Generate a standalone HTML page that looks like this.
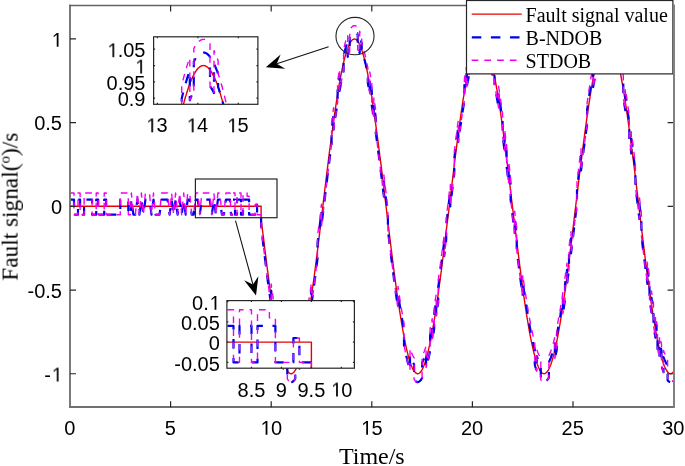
<!DOCTYPE html>
<html><head><meta charset="utf-8"><style>
html,body{margin:0;padding:0;background:#fff;}
body{width:685px;height:466px;overflow:hidden;}
svg{display:block;}
svg text{will-change:transform}
</style></head><body>
<svg width="685" height="466" viewBox="0 0 685 466">
<defs>
<clipPath id="cm"><rect x="70.0" y="5.5" width="603.6" height="401.7"/></clipPath>
</defs>
<rect width="685" height="466" fill="#fff"/>
<g clip-path="url(#cm)" fill="none" stroke-linejoin="round">
<path d="M70.0 206.3L261.1 206.3L261.1 218.9L262.1 227.3L263.2 235.5L264.2 243.7L265.2 251.8L266.2 259.8L267.2 267.7L268.2 275.4L269.2 282.9L270.2 290.3L271.2 297.4L272.2 304.3L273.2 311.0L274.2 317.4L275.2 323.5L276.2 329.3L277.2 334.8L278.2 340.0L279.2 344.9L280.3 349.4L281.3 353.6L282.3 357.4L283.3 360.8L284.3 363.8L285.3 366.5L286.3 368.7L287.3 370.5L288.3 372.0L289.3 373.0L290.3 373.6L291.3 373.7L292.3 373.5L293.3 372.8L294.3 371.7L295.3 370.2L296.4 368.3L297.4 366.0L298.4 363.3L299.4 360.2L300.4 356.7L301.4 352.9L302.4 348.7L303.4 344.1L304.4 339.1L305.4 333.9L306.4 328.3L307.4 322.4L308.4 316.3L309.4 309.8L310.4 303.1L311.4 296.2L312.4 289.0L313.5 281.6L314.5 274.0L315.5 266.3L316.5 258.4L317.5 250.4L318.5 242.3L319.5 234.1L320.5 225.8L321.5 217.5L322.5 209.1L323.5 200.7L324.5 192.4L325.5 184.1L326.5 175.8L327.5 167.6L328.5 159.5L329.5 151.5L330.6 143.7L331.6 136.0L332.6 128.5L333.6 121.2L334.6 114.1L335.6 107.3L336.6 100.6L337.6 94.3L338.6 88.2L339.6 82.4L340.6 77.0L341.6 71.8L342.6 67.0L343.6 62.5L344.6 58.4L345.6 54.7L346.6 51.4L347.7 48.4L348.7 45.8L349.7 43.7L350.7 41.9L351.7 40.5L352.7 39.6L353.7 39.1L354.7 39.0L355.7 39.3L356.7 40.0L357.7 41.2L358.7 42.8L359.7 44.7L360.7 47.1L361.7 49.9L362.7 53.0L363.8 56.6L364.8 60.5L365.8 64.8L366.8 69.4L367.8 74.4L368.8 79.7L369.8 85.4L370.8 91.3L371.8 97.5L372.8 104.0L373.8 110.7L374.8 117.7L375.8 124.9L376.8 132.3L377.8 139.9L378.8 147.7L379.8 155.6L380.9 163.7L381.9 171.8L382.9 180.0L383.9 188.3L384.9 196.7L385.9 205.0L386.9 213.4L387.9 221.7L388.9 230.0L389.9 238.3L390.9 246.5L391.9 254.5L392.9 262.5L393.9 270.3L394.9 277.9L395.9 285.4L396.9 292.7L398.0 299.8L399.0 306.6L400.0 313.2L401.0 319.5L402.0 325.5L403.0 331.2L404.0 336.6L405.0 341.7L406.0 346.5L407.0 350.9L408.0 354.9L409.0 358.6L410.0 361.9L411.0 364.8L412.0 367.3L413.0 369.4L414.1 371.1L415.1 372.3L416.1 373.2L417.1 373.7L418.1 373.7L419.1 373.3L420.1 372.5L421.1 371.3L422.1 369.6L423.1 367.6L424.1 365.2L425.1 362.3L426.1 359.1L427.1 355.5L428.1 351.5L429.1 347.2L430.1 342.5L431.2 337.4L432.2 332.0L433.2 326.4L434.2 320.4L435.2 314.1L436.2 307.6L437.2 300.8L438.2 293.8L439.2 286.5L440.2 279.1L441.2 271.5L442.2 263.7L443.2 255.7L444.2 247.7L445.2 239.5L446.2 231.3L447.2 223.0L448.3 214.6L449.3 206.3L450.3 197.9L451.3 189.6L452.3 181.3L453.3 173.0L454.3 164.9L455.3 156.8L456.3 148.9L457.3 141.1L458.3 133.5L459.3 126.0L460.3 118.8L461.3 111.8L462.3 105.0L463.3 98.5L464.4 92.2L465.4 86.2L466.4 80.6L467.4 75.2L468.4 70.2L469.4 65.5L470.4 61.1L471.4 57.2L472.4 53.5L473.4 50.3L474.4 47.5L475.4 45.1L476.4 43.0L477.4 41.4L478.4 40.2L479.4 39.4L480.4 39.0L481.5 39.0L482.5 39.5L483.5 40.4L484.5 41.7L485.5 43.4L486.5 45.5L487.5 48.0L488.5 50.9L489.5 54.2L490.5 57.9L491.5 61.9L492.5 66.3L493.5 71.1L494.5 76.2L495.5 81.6L496.5 87.3L497.6 93.3L498.6 99.7L499.6 106.2L500.6 113.1L501.6 120.1L502.6 127.4L503.6 134.9L504.6 142.5L505.6 150.4L506.6 158.3L507.6 166.4L508.6 174.6L509.6 182.8L510.6 191.1L511.6 199.5L512.6 207.8L513.6 216.2L514.7 224.5L515.7 232.8L516.7 241.1L517.7 249.2L518.7 257.2L519.7 265.1L520.7 272.9L521.7 280.5L522.7 287.9L523.7 295.1L524.7 302.1L525.7 308.8L526.7 315.3L527.7 321.5L528.7 327.4L529.7 333.1L530.7 338.4L531.8 343.4L532.8 348.0L533.8 352.3L534.8 356.2L535.8 359.7L536.8 362.9L537.8 365.6L538.8 368.0L539.8 370.0L540.8 371.5L541.8 372.7L542.8 373.4L543.8 373.7L544.8 373.6L545.8 373.1L546.8 372.1L547.9 370.8L548.9 369.0L549.9 366.8L550.9 364.3L551.9 361.3L552.9 357.9L553.9 354.2L554.9 350.1L555.9 345.6L556.9 340.8L557.9 335.6L558.9 330.2L559.9 324.4L560.9 318.3L561.9 312.0L562.9 305.3L563.9 298.5L565.0 291.4L566.0 284.0L567.0 276.5L568.0 268.9L569.0 261.0L570.0 253.0L571.0 245.0L572.0 236.8L573.0 228.5L574.0 220.2L575.0 211.8L576.0 203.5L577.0 195.1L578.0 186.8L579.0 178.5L580.0 170.3L581.0 162.1L582.1 154.1L583.1 146.3L584.1 138.5L585.1 131.0L586.1 123.6L587.1 116.4L588.1 109.5L589.1 102.8L590.1 96.3L591.1 90.2L592.1 84.3L593.1 78.7L594.1 73.5L595.1 68.5L596.1 64.0L597.1 59.7L598.1 55.9L599.2 52.4L600.2 49.3L601.2 46.6L602.2 44.3L603.2 42.4L604.2 40.9L605.2 39.9L606.2 39.2L607.2 39.0L608.2 39.2L609.2 39.8L610.2 40.8L611.2 42.2L612.2 44.0L613.2 46.3L614.2 48.9L615.3 52.0L616.3 55.4L617.3 59.2L618.3 63.4L619.3 67.9L620.3 72.7L621.3 78.0L622.3 83.5L623.3 89.3L624.3 95.4L625.3 101.8L626.3 108.5L627.3 115.4L628.3 122.6L629.3 129.9L630.3 137.4L631.3 145.1L632.4 153.0L633.4 161.0L634.4 169.1L635.4 177.3L636.4 185.6L637.4 193.9L638.4 202.3L639.4 210.6L640.4 219.0L641.4 227.3L642.4 235.6L643.4 243.8L644.4 251.9L645.4 259.9L646.4 267.8L647.4 275.5L648.5 283.0L649.5 290.3L650.5 297.5L651.5 304.4L652.5 311.0L653.5 317.4L654.5 323.5L655.5 329.4L656.5 334.9L657.5 340.1L658.5 344.9L659.5 349.5L660.5 353.6L661.5 357.4L662.5 360.8L663.5 363.9L664.5 366.5L665.6 368.7L666.6 370.5L667.6 372.0L668.6 373.0L669.6 373.6L670.6 373.7L671.6 373.5L672.6 372.8L673.6 371.7" stroke="#e80000" stroke-width="1.4"/>
<path d="M70.0 199.7L72.0 199.7L72.0 199.7L74.0 199.7L74.0 214.7L76.0 214.7L76.0 214.7L78.0 214.7L78.0 199.7L80.1 199.7L80.1 214.7L82.1 214.7L82.1 214.7L84.1 214.7L84.1 199.7L86.1 199.7L86.1 199.7L88.1 199.7L88.1 199.7L90.1 199.7L90.1 199.7L92.1 199.7L92.1 214.7L94.1 214.7L94.1 214.7L96.2 214.7L96.2 199.7L98.2 199.7L98.2 214.7L100.2 214.7L100.2 214.7L102.2 214.7L102.2 214.7L104.2 214.7L104.2 199.7L106.2 199.7L106.2 214.7L108.2 214.7L108.2 214.7L110.2 214.7L110.2 214.7L112.3 214.7L112.3 214.7L114.3 214.7L114.3 214.7L116.3 214.7L116.3 214.7L118.3 214.7L118.3 214.7L120.3 214.7L120.3 199.7L122.3 199.7L122.3 199.7L124.3 199.7L124.3 199.7L126.3 199.7L126.3 199.7L128.3 199.7L128.3 214.7L130.4 214.7L131.4 199.7L133.4 214.7L135.4 214.7L137.4 199.7L139.4 214.7L141.4 199.7L143.4 214.7L145.4 199.7L147.5 199.7L149.5 199.7L151.5 214.7L153.5 199.7L155.5 214.7L157.5 214.7L159.5 214.7L161.5 199.7L163.6 199.7L165.6 199.7L167.6 199.7L169.6 214.7L171.6 199.7L173.6 214.7L175.6 199.7L177.6 214.7L179.7 199.7L181.7 214.7L183.7 199.7L185.7 214.7L187.7 199.7L189.7 199.7L191.7 214.7L193.7 214.7L195.8 199.7L197.8 199.7L199.8 214.7L201.8 199.7L203.8 199.7L205.8 199.7L207.8 199.7L209.8 199.7L211.8 214.7L213.9 199.7L215.9 214.7L217.9 199.7L219.9 199.7L221.9 214.7L223.9 214.7L225.9 199.7L227.9 199.7L230.0 199.7L231.0 214.7L233.0 214.7" stroke="#0000f0" stroke-width="2.2" stroke-dasharray="9.5 9.6"/>
<path d="M233.0 199.7L235.0 199.7L235.0 214.7L237.0 214.7L237.0 199.7L239.0 199.7L239.0 199.7L241.0 199.7L241.0 214.7L243.0 214.7L243.0 199.7L245.0 199.7L245.0 199.7L247.1 199.7L247.1 199.7L249.1 199.7L249.1 214.7L251.1 214.7L251.1 214.7L253.1 214.7L253.1 214.7L255.1 214.7L255.1 204.7L257.1 204.7L257.1 214.7L259.1 214.7L259.1 214.7L261.1 214.7L261.1 227.3L261.8 232.9L262.5 238.4L263.2 243.9L263.2 243.9L263.8 249.4L264.5 254.8L265.2 260.2L265.2 260.2L265.8 265.5L266.5 270.8L267.2 276.1L267.2 276.1L267.8 281.2L268.5 286.3L269.2 291.3L269.2 291.3L269.9 296.2L270.5 301.0L271.2 305.8L271.2 290.7L271.9 295.3L272.5 299.9L273.2 304.3L273.2 319.3L273.9 323.6L274.6 327.8L275.2 331.9L275.2 331.9L275.9 335.8L276.6 339.6L277.2 343.2L277.2 343.2L277.9 346.7L278.6 350.1L279.2 353.3L279.2 353.3L279.9 356.3L280.6 359.2L281.3 362.0L281.3 362.0L281.9 364.5L282.6 366.9L283.3 369.2L283.3 354.1L283.9 356.2L284.6 358.1L285.3 359.8L285.3 359.8L286.0 361.3L286.6 362.7L287.3 363.8L287.3 378.9L288.0 379.9L288.6 380.7L289.3 381.3L289.3 381.3L290.0 381.8L290.6 382.0L291.3 382.1L291.3 382.1L292.0 382.0L292.7 381.7L293.3 381.2L293.3 381.2L294.0 380.5L294.7 379.6L295.3 378.6L295.3 363.5L296.0 362.3L296.7 360.9L297.4 359.3L297.4 359.3L298.0 357.6L298.7 355.6L299.4 353.5L299.4 368.6L300.0 366.3L300.7 363.9L301.4 361.2L301.4 346.2L302.1 343.4L302.7 340.5L303.4 337.4L303.4 352.4L304.1 349.2L304.7 345.8L305.4 342.3L305.4 342.3L306.1 338.6L306.7 334.8L307.4 330.8L307.4 315.7L308.1 311.7L308.8 307.4L309.4 303.1L309.4 303.1L310.1 298.7L310.8 294.1L311.4 289.5L311.4 304.5L312.1 299.8L312.8 294.9L313.5 290.0L313.5 290.0L314.1 285.0L314.8 279.9L315.5 274.7L315.5 274.7L316.1 269.4L316.8 264.1L317.5 258.8L317.5 243.7L318.1 238.3L318.8 232.9L319.5 227.4L319.5 227.4L320.2 221.9L320.8 216.3L321.5 210.8L321.5 225.8L322.2 220.2L322.8 214.7L323.5 209.1L323.5 209.1L324.2 203.5L324.9 198.0L325.5 192.4L325.5 192.4L326.2 186.9L326.9 181.4L327.5 176.0L327.5 176.0L328.2 170.6L328.9 165.2L329.5 159.9L329.5 159.9L330.2 154.7L330.9 149.5L331.6 144.4L331.6 129.3L332.2 124.3L332.9 119.4L333.6 114.5L333.6 129.6L334.2 124.8L334.9 120.2L335.6 115.6L335.6 115.6L336.3 111.2L336.9 106.9L337.6 102.6L337.6 87.6L338.3 83.5L338.9 79.6L339.6 75.7L339.6 90.8L340.3 87.1L340.9 83.6L341.6 80.2L341.6 80.2L342.3 76.9L343.0 73.9L343.6 70.9L343.6 55.9L344.3 53.1L345.0 50.5L345.6 48.0L345.6 48.0L346.3 45.7L347.0 43.6L347.7 41.7L347.7 56.8L348.3 55.0L349.0 53.4L349.7 52.0L349.7 37.0L350.3 35.7L351.0 34.7L351.7 33.9L351.7 33.9L352.4 33.2L353.0 32.7L353.7 32.4L353.7 32.4L354.4 32.3L355.0 32.4L355.7 32.6L355.7 32.6L356.4 33.1L357.0 33.7L357.7 34.5L357.7 49.6L358.4 50.6L359.1 51.7L359.7 53.1L359.7 38.0L360.4 39.6L361.1 41.3L361.7 43.2L361.7 49.9L362.4 51.9L363.1 54.2L363.8 56.6L363.8 56.6L364.4 59.2L365.1 61.9L365.8 64.8L365.8 64.8L366.4 67.8L367.1 71.1L367.8 74.4L367.8 82.8L368.4 86.3L369.1 89.9L369.8 93.7L369.8 78.7L370.5 82.6L371.1 86.6L371.8 90.8L371.8 105.9L372.5 110.2L373.1 114.6L373.8 119.1L373.8 104.1L374.5 108.7L375.2 113.4L375.8 118.2L375.8 133.3L376.5 138.2L377.2 143.2L377.8 148.3L377.8 148.3L378.5 153.5L379.2 158.7L379.8 164.0L379.8 164.0L380.5 169.3L381.2 174.7L381.9 180.2L381.9 180.2L382.5 185.6L383.2 191.1L383.9 196.7L383.9 181.6L384.5 187.2L385.2 192.7L385.9 198.3L385.9 198.3L386.6 203.9L387.2 209.5L387.9 215.0L387.9 230.1L388.6 235.6L389.2 241.2L389.9 246.7L389.9 246.7L390.6 252.1L391.2 257.5L391.9 262.9L391.9 262.9L392.6 268.2L393.3 273.5L393.9 278.7L393.9 278.7L394.6 283.8L395.3 288.8L395.9 293.8L395.9 293.8L396.6 298.7L397.3 303.4L398.0 308.1L398.0 293.1L398.6 297.6L399.3 302.1L400.0 306.5L400.0 306.5L400.6 310.7L401.3 314.8L402.0 318.8L402.0 318.8L402.7 322.6L403.3 326.4L404.0 329.9L404.0 345.0L404.7 348.4L405.3 351.7L406.0 354.8L406.0 354.8L406.7 357.8L407.3 360.6L408.0 363.3L408.0 363.3L408.7 365.8L409.4 368.1L410.0 370.2L410.0 355.2L410.7 357.1L411.4 358.9L412.0 360.6L412.0 360.6L412.7 362.0L413.4 363.3L414.1 364.4L414.1 379.4L414.7 380.3L415.4 381.0L416.1 381.6L416.1 381.6L416.7 381.9L417.4 382.1L418.1 382.1L418.1 382.1L418.7 381.8L419.4 381.4L420.1 380.9L420.1 380.9L420.8 380.1L421.4 379.1L422.1 378.0L422.1 363.0L422.8 361.6L423.4 360.1L424.1 358.5L424.1 358.5L424.8 356.6L425.5 354.6L426.1 352.4L426.1 367.5L426.8 365.1L427.5 362.6L428.1 359.9L428.1 359.9L428.8 357.0L429.5 354.0L430.1 350.8L430.1 335.8L430.8 332.4L431.5 329.0L432.2 325.4L432.2 340.4L432.8 336.7L433.5 332.8L434.2 328.8L434.2 313.7L434.8 309.5L435.5 305.3L436.2 300.9L436.2 316.0L436.9 311.5L437.5 306.8L438.2 302.1L438.2 287.1L438.9 282.3L439.5 277.4L440.2 272.4L440.2 272.4L440.9 267.3L441.5 262.2L442.2 257.0L442.2 257.0L442.9 251.7L443.6 246.4L444.2 241.0L444.2 256.1L444.9 250.6L445.6 245.2L446.2 239.7L446.2 224.6L446.9 219.1L447.6 213.5L448.3 207.9L448.3 207.9L448.9 202.4L449.6 196.8L450.3 191.2L450.3 206.3L450.9 200.7L451.6 195.2L452.3 189.6L452.3 189.6L453.0 184.1L453.6 178.7L454.3 173.2L454.3 158.2L455.0 152.8L455.6 147.5L456.3 142.2L456.3 142.2L457.0 137.0L457.6 131.8L458.3 126.8L458.3 141.8L459.0 136.9L459.7 132.0L460.3 127.2L460.3 127.2L461.0 122.5L461.7 117.9L462.3 113.4L462.3 113.4L463.0 109.0L463.7 104.7L464.4 100.6L464.4 85.5L465.0 81.5L465.7 77.6L466.4 73.9L466.4 88.9L467.0 85.3L467.7 81.8L468.4 78.5L468.4 78.5L469.0 75.4L469.7 72.4L470.4 69.5L470.4 69.5L471.1 66.8L471.7 64.3L472.4 61.9L472.4 61.9L473.1 59.7L473.7 57.7L474.4 55.9L474.4 40.8L475.1 39.1L475.8 37.6L476.4 36.3L476.4 36.3L477.1 35.2L477.8 34.3L478.4 33.5L478.4 33.5L479.1 32.9L479.8 32.5L480.4 32.3L480.4 32.3L481.1 32.3L481.8 32.5L482.5 32.8L482.5 32.8L483.1 33.3L483.8 34.1L484.5 35.0L484.5 35.0L485.1 36.1L485.8 37.3L486.5 38.8L486.5 38.8L487.2 40.4L487.8 42.2L488.5 44.2L488.5 44.2L489.2 46.4L489.8 48.7L490.5 51.2L490.5 66.2L491.2 68.9L491.8 71.7L492.5 74.7L492.5 59.6L493.2 62.8L493.9 66.0L494.5 69.5L494.5 84.5L495.2 88.1L495.9 91.8L496.5 95.7L496.5 95.7L497.2 99.7L497.9 103.8L498.6 108.0L498.6 93.0L499.2 97.3L499.9 101.8L500.6 106.4L500.6 106.4L501.2 111.1L501.9 115.8L502.6 120.7L502.6 135.8L503.3 140.7L503.9 145.8L504.6 150.9L504.6 135.8L505.3 141.0L505.9 146.3L506.6 151.6L506.6 166.7L507.3 172.0L507.9 177.5L508.6 182.9L508.6 167.9L509.3 173.4L510.0 178.9L510.6 184.4L510.6 199.5L511.3 205.0L512.0 210.6L512.6 216.2L512.6 216.2L513.3 221.8L514.0 227.3L514.7 232.9L514.7 217.8L515.3 223.4L516.0 228.9L516.7 234.4L516.7 249.4L517.3 254.9L518.0 260.3L518.7 265.6L518.7 265.6L519.3 270.9L520.0 276.1L520.7 281.3L520.7 281.3L521.4 286.3L522.0 291.3L522.7 296.3L522.7 281.2L523.4 286.0L524.0 290.8L524.7 295.4L524.7 295.4L525.4 299.9L526.1 304.3L526.7 308.6L526.7 308.6L527.4 312.8L528.1 316.8L528.7 320.7L528.7 320.7L529.4 324.5L530.1 328.2L530.7 331.7L530.7 331.7L531.4 335.0L532.1 338.2L532.8 341.3L532.8 341.3L533.4 344.2L534.1 346.9L534.8 349.5L534.8 364.6L535.4 367.0L536.1 369.2L536.8 371.2L536.8 356.2L537.5 358.1L538.1 359.8L538.8 361.3L538.8 361.3L539.5 362.7L540.1 363.8L540.8 364.8L540.8 379.9L541.5 380.7L542.1 381.3L542.8 381.8L542.8 381.8L543.5 382.0L544.2 382.1L544.8 382.0L544.8 382.0L545.5 381.7L546.2 381.2L546.8 380.5L546.8 380.5L547.5 379.6L548.2 378.6L548.9 377.4L548.9 362.3L549.5 360.9L550.2 359.3L550.9 357.6L550.9 357.6L551.5 355.6L552.2 353.5L552.9 351.2L552.9 351.2L553.6 348.8L554.2 346.2L554.9 343.4L554.9 358.4L555.6 355.5L556.2 352.4L556.9 349.2L556.9 334.1L557.6 330.7L558.2 327.2L558.9 323.5L558.9 323.5L559.6 319.7L560.3 315.7L560.9 311.6L560.9 311.6L561.6 307.4L562.3 303.1L562.9 298.6L562.9 313.7L563.6 309.1L564.3 304.5L565.0 299.7L565.0 284.7L565.6 279.8L566.3 274.9L567.0 269.8L567.0 284.9L567.6 279.8L568.3 274.6L569.0 269.4L569.0 254.3L569.6 249.0L570.3 243.7L571.0 238.3L571.0 253.3L571.7 247.9L572.3 242.4L573.0 236.9L573.0 236.9L573.7 231.3L574.3 225.8L575.0 220.2L575.0 220.2L575.7 214.6L576.4 209.0L577.0 203.5L577.0 188.4L577.7 182.8L578.4 177.3L579.0 171.8L579.0 171.8L579.7 166.3L580.4 160.9L581.0 155.5L581.0 170.5L581.7 165.2L582.4 159.9L583.1 154.6L583.1 154.6L583.7 149.4L584.4 144.3L585.1 139.3L585.1 139.3L585.7 134.4L586.4 129.5L587.1 124.8L587.1 109.7L587.8 105.1L588.4 100.5L589.1 96.1L589.1 96.1L589.8 91.8L590.4 87.5L591.1 83.5L591.1 83.5L591.8 79.5L592.4 75.7L593.1 72.0L593.1 87.1L593.8 83.5L594.5 80.2L595.1 76.9L595.1 61.8L595.8 58.8L596.5 55.8L597.1 53.1L597.1 53.1L597.8 50.4L598.5 48.0L599.2 45.7L599.2 45.7L599.8 43.6L600.5 41.7L601.2 39.9L601.2 39.9L601.8 38.4L602.5 37.0L603.2 35.7L603.2 35.7L603.9 34.7L604.5 33.8L605.2 33.2L605.2 33.2L605.9 32.7L606.5 32.4L607.2 32.3L607.2 32.3L607.9 32.4L608.5 32.6L609.2 33.1L609.2 33.1L609.9 33.7L610.6 34.5L611.2 35.5L611.2 35.5L611.9 36.7L612.6 38.0L613.2 39.6L613.2 39.6L613.9 41.3L614.6 43.2L615.3 45.3L615.3 45.3L615.9 47.5L616.6 49.9L617.3 52.5L617.3 52.5L617.9 55.2L618.6 58.1L619.3 61.2L619.3 61.2L619.9 64.4L620.6 67.8L621.3 71.3L621.3 71.3L622.0 74.9L622.6 78.7L623.3 82.6L623.3 97.7L624.0 101.7L624.6 105.9L625.3 110.2L625.3 95.1L626.0 99.6L626.7 104.1L627.3 108.7L627.3 108.7L628.0 113.5L628.7 118.3L629.3 123.2L629.3 138.3L630.0 143.3L630.7 148.4L631.3 153.5L631.3 138.5L632.0 143.7L632.7 149.0L633.4 154.3L633.4 154.3L634.0 159.7L634.7 165.1L635.4 170.6L635.4 185.7L636.0 191.2L636.7 196.7L637.4 202.3L637.4 202.3L638.1 207.9L638.7 213.4L639.4 219.0L639.4 204.0L640.1 209.5L640.7 215.1L641.4 220.6L641.4 235.7L642.1 241.2L642.7 246.7L643.4 252.2L643.4 252.2L644.1 257.6L644.8 263.0L645.4 268.3L645.4 268.3L646.1 273.5L646.8 278.7L647.4 283.8L647.4 268.8L648.1 273.8L648.8 278.8L649.5 283.6L649.5 298.7L650.1 303.5L650.8 308.2L651.5 312.7L651.5 297.7L652.1 302.1L652.8 306.5L653.5 310.7L653.5 325.8L654.2 329.9L654.8 333.9L655.5 337.7L655.5 322.7L656.2 326.4L656.8 330.0L657.5 333.4L657.5 348.5L658.2 351.7L658.8 354.9L659.5 357.8L659.5 342.8L660.2 345.6L660.9 348.2L661.5 350.7L661.5 365.8L662.2 368.1L662.9 370.2L663.5 372.2L663.5 357.2L664.2 359.0L664.9 360.6L665.6 362.0L665.6 362.0L666.2 363.3L666.9 364.4L667.6 365.3L667.6 380.3L668.2 381.0L668.9 381.6L669.6 381.9L669.6 381.9L670.2 382.1L670.9 382.1L671.6 381.8L671.6 381.8L672.3 381.4L672.9 380.9L673.6 380.1" stroke="#0000f0" stroke-width="2.2" stroke-dasharray="9.5 9.6" stroke-dashoffset="7.2"/>
<path d="M70.0 193.0L72.0 193.0L72.0 193.0L74.0 193.0L74.0 214.7L76.0 214.7L76.0 214.7L78.0 214.7L78.0 193.0L80.1 193.0L80.1 214.7L82.1 214.7L82.1 214.7L84.1 214.7L84.1 193.0L86.1 193.0L86.1 193.0L88.1 193.0L88.1 193.0L90.1 193.0L90.1 193.0L92.1 193.0L92.1 214.7L94.1 214.7L94.1 214.7L96.2 214.7L96.2 193.0L98.2 193.0L98.2 214.7L100.2 214.7L100.2 214.7L102.2 214.7L102.2 214.7L104.2 214.7L104.2 193.0L106.2 193.0L106.2 214.7L108.2 214.7L108.2 214.7L110.2 214.7L110.2 214.7L112.3 214.7L112.3 214.7L114.3 214.7L114.3 214.7L116.3 214.7L116.3 214.7L118.3 214.7L118.3 214.7L120.3 214.7L120.3 193.0L122.3 193.0L122.3 193.0L124.3 193.0L124.3 193.0L126.3 193.0L126.3 193.0L128.3 193.0L128.3 214.7L130.4 214.7L131.4 193.0L133.4 214.7L135.4 214.7L137.4 193.0L139.4 214.7L141.4 193.0L143.4 214.7L145.4 193.0L147.5 193.0L149.5 193.0L151.5 214.7L153.5 193.0L155.5 214.7L157.5 214.7L159.5 214.7L161.5 193.0L163.6 193.0L165.6 193.0L167.6 193.0L169.6 214.7L171.6 193.0L173.6 214.7L175.6 193.0L177.6 214.7L179.7 193.0L181.7 214.7L183.7 193.0L185.7 214.7L187.7 193.0L189.7 193.0L191.7 214.7L193.7 214.7L195.8 193.0L197.8 193.0L199.8 214.7L201.8 193.0L203.8 193.0L205.8 193.0L207.8 193.0L209.8 193.0L211.8 214.7L213.9 193.0L215.9 214.7L217.9 193.0L219.9 193.0L221.9 214.7L223.9 214.7L225.9 193.0L227.9 193.0L230.0 193.0L231.0 214.7L233.0 214.7" stroke="#f000f0" stroke-width="1.4" stroke-dasharray="6.7 6.05"/>
<path d="M233.0 193.0L235.0 193.0L235.0 214.7L237.0 214.7L237.0 193.0L239.0 193.0L239.0 193.0L241.0 193.0L241.0 214.7L243.0 214.7L243.0 193.0L245.0 193.0L245.0 193.0L247.1 193.0L247.1 196.3L249.1 196.3L249.1 214.7L251.1 214.7L251.1 214.7L253.1 214.7L253.1 214.7L255.1 214.7L255.1 204.7L257.1 204.7L257.1 214.7L259.1 214.7L259.1 214.7L261.1 214.7L261.1 227.3L261.8 232.9L262.5 238.4L263.2 243.9L263.2 243.9L263.8 249.4L264.5 254.8L265.2 260.2L265.2 260.2L265.8 265.5L266.5 270.8L267.2 276.1L267.2 276.1L267.8 281.2L268.5 286.3L269.2 291.3L269.2 291.3L269.9 296.2L270.5 301.0L271.2 305.8L271.2 284.0L271.9 288.6L272.5 293.2L273.2 297.6L273.2 319.3L273.9 323.6L274.6 327.8L275.2 331.9L275.2 331.9L275.9 335.8L276.6 339.6L277.2 343.2L277.2 343.2L277.9 346.7L278.6 350.1L279.2 353.3L279.2 353.3L279.9 356.3L280.6 359.2L281.3 362.0L281.3 362.0L281.9 364.5L282.6 366.9L283.3 369.2L283.3 347.4L283.9 349.5L284.6 351.4L285.3 353.1L285.3 353.1L286.0 354.6L286.6 356.0L287.3 357.1L287.3 378.9L288.0 379.9L288.6 380.7L289.3 381.3L289.3 381.3L290.0 381.8L290.6 382.0L291.3 382.1L291.3 382.1L292.0 382.0L292.7 381.7L293.3 381.2L293.3 381.2L294.0 380.5L294.7 379.6L295.3 378.6L295.3 356.8L296.0 355.6L296.7 354.2L297.4 352.6L297.4 352.6L298.0 350.9L298.7 348.9L299.4 346.8L299.4 368.6L300.0 366.3L300.7 363.9L301.4 361.2L301.4 339.5L302.1 336.7L302.7 333.8L303.4 330.7L303.4 352.4L304.1 349.2L304.7 345.8L305.4 342.3L305.4 342.3L306.1 338.6L306.7 334.8L307.4 330.8L307.4 309.0L308.1 305.0L308.8 300.7L309.4 296.4L309.4 296.4L310.1 292.0L310.8 287.4L311.4 282.8L311.4 304.5L312.1 299.8L312.8 294.9L313.5 290.0L313.5 290.0L314.1 285.0L314.8 279.9L315.5 274.7L315.5 274.7L316.1 269.4L316.8 264.1L317.5 258.8L317.5 237.0L318.1 231.6L318.8 226.2L319.5 220.7L319.5 220.7L320.2 215.2L320.8 209.6L321.5 204.1L321.5 225.8L322.2 220.2L322.8 214.7L323.5 209.1L323.5 209.1L324.2 203.5L324.9 198.0L325.5 192.4L325.5 192.4L326.2 186.9L326.9 181.4L327.5 176.0L327.5 176.0L328.2 170.6L328.9 165.2L329.5 159.9L329.5 159.9L330.2 154.7L330.9 149.5L331.6 144.4L331.6 122.6L332.2 117.6L332.9 112.7L333.6 107.8L333.6 129.6L334.2 124.8L334.9 120.2L335.6 115.6L335.6 115.6L336.3 111.2L336.9 106.9L337.6 102.6L337.6 80.9L338.3 76.8L338.9 72.9L339.6 69.0L339.6 90.8L340.3 87.1L340.9 83.6L341.6 80.2L341.6 80.2L342.3 76.9L343.0 73.9L343.6 70.9L343.6 49.2L344.3 46.4L345.0 43.8L345.6 41.3L345.6 41.3L346.3 39.0L347.0 36.9L347.7 35.0L347.7 56.8L348.3 55.0L349.0 53.4L349.7 52.0L349.7 30.3L350.3 29.1L351.0 28.0L351.7 27.2L351.7 27.2L352.4 26.5L353.0 26.0L353.7 25.7L353.7 25.7L354.4 25.6L355.0 25.7L355.7 25.9L355.7 25.9L356.4 26.4L357.0 27.0L357.7 27.8L357.7 49.6L358.4 50.6L359.1 51.7L359.7 53.1L359.7 31.3L360.4 32.9L361.1 34.6L361.7 36.5L361.7 43.2L362.4 45.2L363.1 47.5L363.8 49.9L363.8 49.9L364.4 52.5L365.1 55.2L365.8 58.1L365.8 58.1L366.4 61.2L367.1 64.4L367.8 67.7L367.8 82.8L368.4 86.3L369.1 89.9L369.8 93.7L369.8 72.0L370.5 75.9L371.1 79.9L371.8 84.1L371.8 105.9L372.5 110.2L373.1 114.6L373.8 119.1L373.8 97.4L374.5 102.0L375.2 106.7L375.8 111.5L375.8 133.3L376.5 138.2L377.2 143.2L377.8 148.3L377.8 148.3L378.5 153.5L379.2 158.7L379.8 164.0L379.8 164.0L380.5 169.3L381.2 174.7L381.9 180.2L381.9 180.2L382.5 185.6L383.2 191.1L383.9 196.7L383.9 174.9L384.5 180.5L385.2 186.0L385.9 191.6L385.9 191.6L386.6 197.2L387.2 202.8L387.9 208.3L387.9 230.1L388.6 235.6L389.2 241.2L389.9 246.7L389.9 246.7L390.6 252.1L391.2 257.5L391.9 262.9L391.9 262.9L392.6 268.2L393.3 273.5L393.9 278.7L393.9 278.7L394.6 283.8L395.3 288.8L395.9 293.8L395.9 293.8L396.6 298.7L397.3 303.4L398.0 308.1L398.0 286.4L398.6 290.9L399.3 295.4L400.0 299.8L400.0 299.8L400.6 304.0L401.3 308.1L402.0 312.1L402.0 312.1L402.7 315.9L403.3 319.7L404.0 323.2L404.0 345.0L404.7 348.4L405.3 351.7L406.0 354.8L406.0 354.8L406.7 357.8L407.3 360.6L408.0 363.3L408.0 363.3L408.7 365.8L409.4 368.1L410.0 370.2L410.0 348.5L410.7 350.4L411.4 352.2L412.0 353.9L412.0 353.9L412.7 355.3L413.4 356.6L414.1 357.7L414.1 379.4L414.7 380.3L415.4 381.0L416.1 381.6L416.1 381.6L416.7 381.9L417.4 382.1L418.1 382.1L418.1 382.1L418.7 381.8L419.4 381.4L420.1 380.9L420.1 380.9L420.8 380.1L421.4 379.1L422.1 378.0L422.1 356.3L422.8 354.9L423.4 353.4L424.1 351.8L424.1 351.8L424.8 349.9L425.5 347.9L426.1 345.7L426.1 367.5L426.8 365.1L427.5 362.6L428.1 359.9L428.1 359.9L428.8 357.0L429.5 354.0L430.1 350.8L430.1 329.1L430.8 325.7L431.5 322.3L432.2 318.7L432.2 340.4L432.8 336.7L433.5 332.8L434.2 328.8L434.2 307.0L434.8 302.8L435.5 298.6L436.2 294.2L436.2 316.0L436.9 311.5L437.5 306.8L438.2 302.1L438.2 280.4L438.9 275.6L439.5 270.7L440.2 265.7L440.2 265.7L440.9 260.6L441.5 255.5L442.2 250.3L442.2 250.3L442.9 245.0L443.6 239.7L444.2 234.3L444.2 256.1L444.9 250.6L445.6 245.2L446.2 239.7L446.2 217.9L446.9 212.4L447.6 206.8L448.3 201.3L448.3 201.3L448.9 195.7L449.6 190.1L450.3 184.5L450.3 206.3L450.9 200.7L451.6 195.2L452.3 189.6L452.3 189.6L453.0 184.1L453.6 178.7L454.3 173.2L454.3 151.5L455.0 146.1L455.6 140.8L456.3 135.5L456.3 135.5L457.0 130.3L457.6 125.2L458.3 120.1L458.3 141.8L459.0 136.9L459.7 132.0L460.3 127.2L460.3 127.2L461.0 122.5L461.7 117.9L462.3 113.4L462.3 113.4L463.0 109.0L463.7 104.7L464.4 100.6L464.4 78.8L465.0 74.8L465.7 70.9L466.4 67.2L466.4 88.9L467.0 85.3L467.7 81.8L468.4 78.5L468.4 78.5L469.0 75.4L469.7 72.4L470.4 69.5L470.4 69.5L471.1 66.8L471.7 64.3L472.4 61.9L472.4 61.9L473.1 59.7L473.7 57.7L474.4 55.9L474.4 34.1L475.1 32.4L475.8 30.9L476.4 29.6L476.4 29.6L477.1 28.5L477.8 27.6L478.4 26.8L478.4 26.8L479.1 26.2L479.8 25.8L480.4 25.6L480.4 25.6L481.1 25.6L481.8 25.8L482.5 26.1L482.5 26.1L483.1 26.7L483.8 27.4L484.5 28.3L484.5 28.3L485.1 29.4L485.8 30.6L486.5 32.1L486.5 32.1L487.2 33.7L487.8 35.5L488.5 37.5L488.5 37.5L489.2 39.7L489.8 42.0L490.5 44.5L490.5 66.2L491.2 68.9L491.8 71.7L492.5 74.7L492.5 52.9L493.2 56.1L493.9 59.3L494.5 62.8L494.5 84.5L495.2 88.1L495.9 91.8L496.5 95.7L496.5 95.7L497.2 99.7L497.9 103.8L498.6 108.0L498.6 86.3L499.2 90.6L499.9 95.1L500.6 99.7L500.6 99.7L501.2 104.4L501.9 109.1L502.6 114.0L502.6 135.8L503.3 140.7L503.9 145.8L504.6 150.9L504.6 129.1L505.3 134.3L505.9 139.6L506.6 144.9L506.6 166.7L507.3 172.0L507.9 177.5L508.6 182.9L508.6 161.2L509.3 166.7L510.0 172.2L510.6 177.7L510.6 199.5L511.3 205.0L512.0 210.6L512.6 216.2L512.6 216.2L513.3 221.8L514.0 227.3L514.7 232.9L514.7 211.1L515.3 216.7L516.0 222.2L516.7 227.7L516.7 249.4L517.3 254.9L518.0 260.3L518.7 265.6L518.7 265.6L519.3 270.9L520.0 276.1L520.7 281.3L520.7 281.3L521.4 286.3L522.0 291.3L522.7 296.3L522.7 274.5L523.4 279.3L524.0 284.1L524.7 288.7L524.7 288.7L525.4 293.2L526.1 297.6L526.7 301.9L526.7 301.9L527.4 306.1L528.1 310.1L528.7 314.1L528.7 314.1L529.4 317.8L530.1 321.5L530.7 325.0L530.7 325.0L531.4 328.3L532.1 331.5L532.8 334.6L532.8 334.6L533.4 337.5L534.1 340.2L534.8 342.8L534.8 364.6L535.4 367.0L536.1 369.2L536.8 371.2L536.8 349.5L537.5 351.4L538.1 353.1L538.8 354.6L538.8 354.6L539.5 356.0L540.1 357.2L540.8 358.1L540.8 379.9L541.5 380.7L542.1 381.3L542.8 381.8L542.8 381.8L543.5 382.0L544.2 382.1L544.8 382.0L544.8 382.0L545.5 381.7L546.2 381.2L546.8 380.5L546.8 380.5L547.5 379.6L548.2 378.6L548.9 377.4L548.9 355.6L549.5 354.2L550.2 352.6L550.9 350.9L550.9 350.9L551.5 348.9L552.2 346.8L552.9 344.5L552.9 344.5L553.6 342.1L554.2 339.5L554.9 336.7L554.9 358.4L555.6 355.5L556.2 352.4L556.9 349.2L556.9 327.4L557.6 324.0L558.2 320.5L558.9 316.8L558.9 316.8L559.6 313.0L560.3 309.0L560.9 304.9L560.9 304.9L561.6 300.7L562.3 296.4L562.9 291.9L562.9 313.7L563.6 309.1L564.3 304.5L565.0 299.7L565.0 278.0L565.6 273.1L566.3 268.2L567.0 263.2L567.0 284.9L567.6 279.8L568.3 274.6L569.0 269.4L569.0 247.6L569.6 242.3L570.3 237.0L571.0 231.6L571.0 253.3L571.7 247.9L572.3 242.4L573.0 236.9L573.0 236.9L573.7 231.3L574.3 225.8L575.0 220.2L575.0 220.2L575.7 214.6L576.4 209.0L577.0 203.5L577.0 181.7L577.7 176.2L578.4 170.6L579.0 165.1L579.0 165.1L579.7 159.6L580.4 154.2L581.0 148.8L581.0 170.5L581.7 165.2L582.4 159.9L583.1 154.6L583.1 154.6L583.7 149.4L584.4 144.3L585.1 139.3L585.1 139.3L585.7 134.4L586.4 129.5L587.1 124.8L587.1 103.0L587.8 98.4L588.4 93.8L589.1 89.4L589.1 89.4L589.8 85.1L590.4 80.9L591.1 76.8L591.1 76.8L591.8 72.8L592.4 69.0L593.1 65.3L593.1 87.1L593.8 83.5L594.5 80.2L595.1 76.9L595.1 55.2L595.8 52.1L596.5 49.1L597.1 46.4L597.1 46.4L597.8 43.7L598.5 41.3L599.2 39.0L599.2 39.0L599.8 36.9L600.5 35.0L601.2 33.2L601.2 33.2L601.8 31.7L602.5 30.3L603.2 29.0L603.2 29.0L603.9 28.0L604.5 27.2L605.2 26.5L605.2 26.5L605.9 26.0L606.5 25.7L607.2 25.6L607.2 25.6L607.9 25.7L608.5 25.9L609.2 26.4L609.2 26.4L609.9 27.0L610.6 27.8L611.2 28.8L611.2 28.8L611.9 30.0L612.6 31.3L613.2 32.9L613.2 32.9L613.9 34.6L614.6 36.5L615.3 38.6L615.3 38.6L615.9 40.8L616.6 43.2L617.3 45.8L617.3 45.8L617.9 48.5L618.6 51.4L619.3 54.5L619.3 54.5L619.9 57.7L620.6 61.1L621.3 64.6L621.3 64.6L622.0 68.2L622.6 72.0L623.3 75.9L623.3 97.7L624.0 101.7L624.6 105.9L625.3 110.2L625.3 88.5L626.0 92.9L626.7 97.4L627.3 102.0L627.3 102.0L628.0 106.8L628.7 111.6L629.3 116.5L629.3 138.3L630.0 143.3L630.7 148.4L631.3 153.5L631.3 131.8L632.0 137.0L632.7 142.3L633.4 147.6L633.4 147.6L634.0 153.0L634.7 158.5L635.4 163.9L635.4 185.7L636.0 191.2L636.7 196.7L637.4 202.3L637.4 202.3L638.1 207.9L638.7 213.4L639.4 219.0L639.4 197.3L640.1 202.8L640.7 208.4L641.4 213.9L641.4 235.7L642.1 241.2L642.7 246.7L643.4 252.2L643.4 252.2L644.1 257.6L644.8 263.0L645.4 268.3L645.4 268.3L646.1 273.5L646.8 278.7L647.4 283.8L647.4 262.1L648.1 267.1L648.8 272.1L649.5 276.9L649.5 298.7L650.1 303.5L650.8 308.2L651.5 312.7L651.5 291.0L652.1 295.4L652.8 299.8L653.5 304.0L653.5 325.8L654.2 329.9L654.8 333.9L655.5 337.7L655.5 316.0L656.2 319.7L656.8 323.3L657.5 326.7L657.5 348.5L658.2 351.7L658.8 354.9L659.5 357.8L659.5 336.1L660.2 338.9L660.9 341.5L661.5 344.0L661.5 365.8L662.2 368.1L662.9 370.2L663.5 372.2L663.5 350.5L664.2 352.3L664.9 353.9L665.6 355.3L665.6 355.3L666.2 356.6L666.9 357.7L667.6 358.6L667.6 380.3L668.2 381.0L668.9 381.6L669.6 381.9L669.6 381.9L670.2 382.1L670.9 382.1L671.6 381.8L671.6 381.8L672.3 381.4L672.9 380.9L673.6 380.1" stroke="#f000f0" stroke-width="1.4" stroke-dasharray="6.7 6.05" stroke-dashoffset="1.5"/>
</g>
<g stroke="#262626" stroke-width="1.2" fill="none">
<path d="M70 4.7V407.9" stroke="#7a7a7a" stroke-width="2"/>
<path d="M69 5.5H675" stroke="#646464" stroke-width="1.6"/>
<path d="M69 407H675" stroke="#707070" stroke-width="2"/>
<path d="M170.60 407.2V401.2M170.60 5.5V11.5M271.20 407.2V401.2M271.20 5.5V11.5M371.80 407.2V401.2M371.80 5.5V11.5M472.40 407.2V401.2M472.40 5.5V11.5M573.00 407.2V401.2M573.00 5.5V11.5M70.0 373.73H76.0M673.6 373.73H667.6M70.0 290.04H76.0M673.6 290.04H667.6M70.0 206.35H76.0M673.6 206.35H667.6M70.0 122.66H76.0M673.6 122.66H667.6M70.0 38.97H76.0M673.6 38.97H667.6"/>
</g>
<g font-family="'Liberation Sans', sans-serif" font-size="20" fill="#000">
<text x="64.14" y="434.70">0</text>
<text x="164.74" y="434.70">5</text>
<text x="259.78" y="434.70"> 0</text><path transform="translate(259.78 434.70) scale(0.009766 -0.009766)" d="M600 0L600 1230L282 965L282 1135L615 1409L781 1409L781 0Z"/>
<text x="360.38" y="434.70"> 5</text><path transform="translate(360.38 434.70) scale(0.009766 -0.009766)" d="M600 0L600 1230L282 965L282 1135L615 1409L781 1409L781 0Z"/>
<text x="460.98" y="434.70">20</text>
<text x="561.58" y="434.70">25</text>
<text x="662.18" y="434.70">30</text>
<text x="44.22" y="381.53">- </text><path transform="translate(50.88 381.53) scale(0.009766 -0.009766)" d="M600 0L600 1230L282 965L282 1135L615 1409L781 1409L781 0Z"/>
<text x="27.54" y="297.84">-0.5</text>
<text x="50.88" y="214.15">0</text>
<text x="34.20" y="130.46">0.5</text>
<text x="50.88" y="46.77"> </text><path transform="translate(50.88 46.77) scale(0.009766 -0.009766)" d="M600 0L600 1230L282 965L282 1135L615 1409L781 1409L781 0Z"/>
</g>
<g font-family="'Liberation Serif', serif" font-size="23.5" fill="#000">
<text x="371.80" y="464" text-anchor="middle" font-size="24">Time/s</text>
<text transform="translate(17.6 206.7) rotate(-90)" text-anchor="middle" font-size="23.3">Fault signal(<tspan font-size="15" dy="-8.5">o</tspan><tspan dy="8.5">)/s</tspan></text>
</g>
<rect x="466.5" y="0.5" width="206.39999999999998" height="73.4" fill="#fff" stroke="#262626" stroke-width="1.2"/>
<path d="M471.7 14.1H521.7" stroke="#e80000" stroke-width="1.4"/>
<path d="M471.8 37.3H520" stroke="#0000f0" stroke-width="2.2" stroke-dasharray="9.5 9.6"/>
<path d="M471.6 60.3H517" stroke="#f000f0" stroke-width="1.4" stroke-dasharray="6.7 6.05"/>
<path d="M674 4.7V407.9" stroke="#808080" stroke-width="2"/>
<g font-family="'Liberation Serif', serif" font-size="20" fill="#000">
<text x="525.6" y="21.7">Fault signal value</text>
<text x="525.6" y="44.8">B-NDOB</text>
<text x="525.6" y="68.0">STDOB</text>
</g>
<clipPath id="c1"><rect x="153.6" y="36.8" width="104.29999999999998" height="67.5"/></clipPath>
<rect x="153.6" y="36.8" width="104.29999999999998" height="67.5" fill="#fff"/>
<g clip-path="url(#c1)" fill="none" stroke-linejoin="round">
<path d="M153.6 283.3L154.0 280.2L154.4 277.2L154.8 274.1L155.2 271.1L155.6 268.1L156.0 265.0L156.4 262.0L156.8 259.0L157.2 256.1L157.6 253.1L158.0 250.2L158.5 247.2L158.9 244.3L159.3 241.4L159.7 238.5L160.1 235.6L160.5 232.8L160.9 229.9L161.3 227.1L161.7 224.3L162.1 221.5L162.5 218.7L162.9 216.0L163.3 213.2L163.7 210.5L164.1 207.8L164.5 205.1L164.9 202.5L165.3 199.8L165.7 197.2L166.1 194.6L166.5 192.0L166.9 189.4L167.4 186.9L167.8 184.3L168.2 181.8L168.6 179.3L169.0 176.9L169.4 174.4L169.8 172.0L170.2 169.6L170.6 167.2L171.0 164.9L171.4 162.5L171.8 160.2L172.2 157.9L172.6 155.7L173.0 153.4L173.4 151.2L173.8 149.0L174.2 146.8L174.6 144.7L175.0 142.6L175.4 140.5L175.8 138.4L176.2 136.4L176.7 134.4L177.1 132.4L177.5 130.4L177.9 128.5L178.3 126.5L178.7 124.7L179.1 122.8L179.5 121.0L179.9 119.2L180.3 117.4L180.7 115.6L181.1 113.9L181.5 112.2L181.9 110.5L182.3 108.9L182.7 107.3L183.1 105.7L183.5 104.1L183.9 102.6L184.3 101.1L184.7 99.7L185.1 98.2L185.5 96.8L186.0 95.4L186.4 94.1L186.8 92.8L187.2 91.5L187.6 90.2L188.0 89.0L188.4 87.8L188.8 86.6L189.2 85.5L189.6 84.4L190.0 83.3L190.4 82.2L190.8 81.2L191.2 80.2L191.6 79.3L192.0 78.4L192.4 77.5L192.8 76.6L193.2 75.8L193.6 75.0L194.0 74.2L194.4 73.5L194.9 72.8L195.3 72.1L195.7 71.5L196.1 70.9L196.5 70.3L196.9 69.8L197.3 69.3L197.7 68.8L198.1 68.3L198.5 67.9L198.9 67.6L199.3 67.2L199.7 66.9L200.1 66.6L200.5 66.4L200.9 66.1L201.3 66.0L201.7 65.8L202.1 65.7L202.5 65.6L202.9 65.6L203.3 65.5L203.7 65.6L204.2 65.6L204.6 65.7L205.0 65.8L205.4 65.9L205.8 66.1L206.2 66.3L206.6 66.6L207.0 66.8L207.4 67.1L207.8 67.5L208.2 67.8L208.6 68.2L209.0 68.7L209.4 69.1L209.8 69.6L210.2 70.2L210.6 70.7L211.0 71.3L211.4 72.0L211.8 72.6L212.2 73.3L212.6 74.1L213.0 74.8L213.5 75.6L213.9 76.4L214.3 77.3L214.7 78.1L215.1 79.1L215.5 80.0L215.9 81.0L216.3 82.0L216.7 83.0L217.1 84.1L217.5 85.2L217.9 86.3L218.3 87.5L218.7 88.7L219.1 89.9L219.5 91.2L219.9 92.5L220.3 93.8L220.7 95.1L221.1 96.5L221.5 97.9L221.9 99.3L222.4 100.8L222.8 102.3L223.2 103.8L223.6 105.3L224.0 106.9L224.4 108.5L224.8 110.1L225.2 111.8L225.6 113.5L226.0 115.2L226.4 117.0L226.8 118.7L227.2 120.5L227.6 122.4L228.0 124.2L228.4 126.1L228.8 128.0L229.2 129.9L229.6 131.9L230.0 133.9L230.4 135.9L230.8 137.9L231.2 140.0L231.7 142.1L232.1 144.2L232.5 146.3L232.9 148.5L233.3 150.7L233.7 152.9L234.1 155.1L234.5 157.4L234.9 159.7L235.3 162.0L235.7 164.3L236.1 166.7L236.5 169.0L236.9 171.4L237.3 173.8L237.7 176.3L238.1 178.7L238.5 181.2L238.9 183.7L239.3 186.3L239.7 188.8L240.1 191.4L240.6 194.0L241.0 196.6L241.4 199.2L241.8 201.8L242.2 204.5L242.6 207.2L243.0 209.9L243.4 212.6L243.8 215.3L244.2 218.1L244.6 220.9L245.0 223.7L245.4 226.5L245.8 229.3L246.2 232.1L246.6 235.0L247.0 237.8L247.4 240.7L247.8 243.6L248.2 246.5L248.6 249.5L249.0 252.4L249.4 255.4L249.9 258.4L250.3 261.3L250.7 264.3L251.1 267.4L251.5 270.4L251.9 273.4L252.3 276.5L252.7 279.5L253.1 282.6L253.5 285.7L253.9 288.8L254.3 291.9L254.7 295.0L255.1 298.1L255.5 301.2L255.9 304.4L256.3 307.5L256.7 310.7L257.1 313.9L257.5 317.0" stroke="#e80000" stroke-width="1.4"/>
<path d="M153.6 299.6L154.1 296.0L154.6 292.4L155.0 288.9L155.5 285.3L156.0 281.7L156.5 278.2L156.9 274.7L157.4 271.2L157.4 241.8L157.9 238.1L158.4 234.5L158.9 230.8L159.4 227.2L159.9 223.6L160.4 220.0L160.9 216.5L161.4 212.9L161.4 242.3L162.0 238.8L162.5 235.3L163.0 231.9L163.5 228.5L164.0 225.1L164.5 221.7L165.0 218.4L165.5 215.1L165.5 215.1L166.0 211.8L166.5 208.6L167.0 205.3L167.5 202.2L168.0 199.0L168.5 195.9L169.0 192.8L169.5 189.8L169.5 160.4L170.0 157.4L170.5 154.4L171.1 151.4L171.6 148.5L172.1 145.7L172.6 142.8L173.1 140.0L173.6 137.3L173.6 166.6L174.1 163.9L174.6 161.2L175.1 158.6L175.6 156.0L176.1 153.4L176.6 150.9L177.1 148.4L177.6 145.9L177.6 145.9L178.1 143.5L178.6 141.2L179.1 138.8L179.6 136.6L180.2 134.3L180.7 132.1L181.2 130.0L181.7 127.9L181.7 98.5L182.2 96.4L182.7 94.4L183.2 92.4L183.7 90.5L184.2 88.6L184.7 86.7L185.2 84.9L185.7 83.2L185.7 83.2L186.2 81.5L186.7 79.8L187.2 78.2L187.7 76.6L188.2 75.1L188.7 73.7L189.2 72.2L189.8 70.9L189.8 100.3L190.3 98.9L190.8 97.6L191.3 96.4L191.8 95.2L192.3 94.1L192.8 93.0L193.3 92.0L193.8 91.0L193.8 61.6L194.3 60.7L194.8 59.8L195.3 59.0L195.8 58.2L196.3 57.4L196.8 56.8L197.3 56.1L197.8 55.5L197.8 55.5L198.3 55.0L198.9 54.5L199.4 54.1L199.9 53.7L200.4 53.4L200.9 53.1L201.4 52.9L201.9 52.7L201.9 52.7L202.4 52.6L202.9 52.5L203.4 52.5L203.9 52.5L204.4 52.6L204.9 52.7L205.4 52.9L205.9 53.1L205.9 53.1L206.4 53.4L206.9 53.7L207.4 54.1L208.0 54.6L208.5 55.0L209.0 55.6L209.5 56.2L210.0 56.8L210.0 86.2L210.5 86.9L211.0 87.6L211.5 88.4L212.0 89.2L212.5 90.1L213.0 91.1L213.5 92.0L214.0 93.1L214.0 63.7L214.5 64.8L215.0 65.9L215.5 67.1L216.0 68.3L216.5 69.6L217.1 70.9L217.6 72.3L218.1 73.7L218.1 86.8L218.6 88.3L219.1 89.8L219.6 91.4L220.1 93.0L220.6 94.6L221.1 96.3L221.6 98.1L222.1 99.9L222.1 99.9L222.6 101.7L223.1 103.6L223.6 105.6L224.1 107.5L224.6 109.6L225.1 111.6L225.6 113.8L226.2 115.9L226.2 115.9L226.7 118.1L227.2 120.4L227.7 122.6L228.2 125.0L228.7 127.3L229.2 129.7L229.7 132.2L230.2 134.7L230.2 151.0L230.7 153.5L231.2 156.1L231.7 158.7L232.2 161.4L232.7 164.1L233.2 166.8L233.7 169.6L234.2 172.4L234.2 143.0L234.7 145.8L235.3 148.7L235.8 151.6L236.3 154.5L236.8 157.5L237.3 160.5L237.8 163.6L238.3 166.7L238.3 196.1L238.8 199.2L239.3 202.3L239.8 205.5L240.3 208.7L240.8 212.0L241.3 215.3L241.8 218.6L242.3 221.9L242.3 192.5L242.8 195.9L243.3 199.3L243.8 202.7L244.4 206.1L244.9 209.6L245.4 213.1L245.9 216.6L246.4 220.2L246.4 249.6L246.9 253.2L247.4 256.8L247.9 260.4L248.4 264.0L248.9 267.7L249.4 271.4L249.9 275.1L250.4 278.9L250.4 278.9L250.9 282.6L251.4 286.4L251.9 290.2L252.4 294.0L252.9 297.8L253.5 301.7L254.0 305.6L254.5 309.4L254.5 309.4L255.0 313.2L255.4 317.0L255.9 320.8L256.4 324.7L256.9 328.5L257.4 332.4L257.9 336.2" stroke="#0000f0" stroke-width="2.2" stroke-dasharray="9.5 9.6" stroke-dashoffset="7.2"/>
<path d="M153.6 299.6L154.1 296.0L154.6 292.4L155.0 288.9L155.5 285.3L156.0 281.7L156.5 278.2L156.9 274.7L157.4 271.2L157.4 228.8L157.9 225.1L158.4 221.4L158.9 217.7L159.4 214.1L159.9 210.5L160.4 206.9L160.9 203.4L161.4 199.9L161.4 242.3L162.0 238.8L162.5 235.3L163.0 231.9L163.5 228.5L164.0 225.1L164.5 221.7L165.0 218.4L165.5 215.1L165.5 215.1L166.0 211.8L166.5 208.6L167.0 205.3L167.5 202.2L168.0 199.0L168.5 195.9L169.0 192.8L169.5 189.8L169.5 147.3L170.0 144.3L170.5 141.3L171.1 138.4L171.6 135.5L172.1 132.6L172.6 129.8L173.1 127.0L173.6 124.2L173.6 166.6L174.1 163.9L174.6 161.2L175.1 158.6L175.6 156.0L176.1 153.4L176.6 150.9L177.1 148.4L177.6 145.9L177.6 145.9L178.1 143.5L178.6 141.2L179.1 138.8L179.6 136.6L180.2 134.3L180.7 132.1L181.2 130.0L181.7 127.9L181.7 85.4L182.2 83.3L182.7 81.3L183.2 79.3L183.7 77.4L184.2 75.5L184.7 73.7L185.2 71.9L185.7 70.1L185.7 70.1L186.2 68.4L186.7 66.8L187.2 65.1L187.7 63.6L188.2 62.1L188.7 60.6L189.2 59.2L189.8 57.8L189.8 100.3L190.3 98.9L190.8 97.6L191.3 96.4L191.8 95.2L192.3 94.1L192.8 93.0L193.3 92.0L193.8 91.0L193.8 48.6L194.3 47.6L194.8 46.7L195.3 45.9L195.8 45.1L196.3 44.4L196.8 43.7L197.3 43.1L197.8 42.5L197.8 42.5L198.3 41.9L198.9 41.5L199.4 41.0L199.9 40.7L200.4 40.3L200.9 40.0L201.4 39.8L201.9 39.6L201.9 39.6L202.4 39.5L202.9 39.4L203.4 39.4L203.9 39.4L204.4 39.5L204.9 39.6L205.4 39.8L205.9 40.1L205.9 40.1L206.4 40.3L206.9 40.7L207.4 41.1L208.0 41.5L208.5 42.0L209.0 42.5L209.5 43.1L210.0 43.7L210.0 86.2L210.5 86.9L211.0 87.6L211.5 88.4L212.0 89.2L212.5 90.1L213.0 91.1L213.5 92.0L214.0 93.1L214.0 50.6L214.5 51.7L215.0 52.8L215.5 54.0L216.0 55.3L216.5 56.5L217.1 57.9L217.6 59.2L218.1 60.7L218.1 73.7L218.6 75.2L219.1 76.7L219.6 78.3L220.1 79.9L220.6 81.6L221.1 83.3L221.6 85.0L222.1 86.8L222.1 86.8L222.6 88.7L223.1 90.6L223.6 92.5L224.1 94.5L224.6 96.5L225.1 98.6L225.6 100.7L226.2 102.8L226.2 102.8L226.7 105.0L227.2 107.3L227.7 109.6L228.2 111.9L228.7 114.3L229.2 116.7L229.7 119.1L230.2 121.6L230.2 151.0L230.7 153.5L231.2 156.1L231.7 158.7L232.2 161.4L232.7 164.1L233.2 166.8L233.7 169.6L234.2 172.4L234.2 129.9L234.7 132.7L235.3 135.6L235.8 138.5L236.3 141.5L236.8 144.5L237.3 147.5L237.8 150.5L238.3 153.6L238.3 196.1L238.8 199.2L239.3 202.3L239.8 205.5L240.3 208.7L240.8 212.0L241.3 215.3L241.8 218.6L242.3 221.9L242.3 179.4L242.8 182.8L243.3 186.2L243.8 189.6L244.4 193.1L244.9 196.5L245.4 200.1L245.9 203.6L246.4 207.1L246.4 249.6L246.9 253.2L247.4 256.8L247.9 260.4L248.4 264.0L248.9 267.7L249.4 271.4L249.9 275.1L250.4 278.9L250.4 278.9L250.9 282.6L251.4 286.4L251.9 290.2L252.4 294.0L252.9 297.8L253.5 301.7L254.0 305.6L254.5 309.4L254.5 309.4L255.0 313.2L255.4 317.0L255.9 320.8L256.4 324.7L256.9 328.5L257.4 332.4L257.9 336.2" stroke="#f000f0" stroke-width="1.4" stroke-dasharray="6.7 6.05" stroke-dashoffset="3.9"/>
</g>
<g stroke="#262626" stroke-width="1.2" fill="none">
<rect x="153.6" y="36.8" width="104.29999999999998" height="67.5"/>
<path d="M157.40 104.3v-1.5M157.40 36.8v1.5M197.84 104.3v-1.5M197.84 36.8v1.5M238.29 104.3v-1.5M238.29 36.8v1.5M153.6 98.19h1.5M257.9 98.19h-1.5M153.6 81.87h1.5M257.9 81.87h-1.5M153.6 65.54h1.5M257.9 65.54h-1.5M153.6 49.21h1.5M257.9 49.21h-1.5"/>
</g>
<g font-family="'Liberation Sans', sans-serif" font-size="20" fill="#000">
<text x="145.48" y="132.30"> 3</text><path transform="translate(145.48 132.30) scale(0.009766 -0.009766)" d="M600 0L600 1230L282 965L282 1135L615 1409L781 1409L781 0Z"/>
<text x="185.92" y="132.30"> 4</text><path transform="translate(185.92 132.30) scale(0.009766 -0.009766)" d="M600 0L600 1230L282 965L282 1135L615 1409L781 1409L781 0Z"/>
<text x="226.36" y="132.30"> 5</text><path transform="translate(226.36 132.30) scale(0.009766 -0.009766)" d="M600 0L600 1230L282 965L282 1135L615 1409L781 1409L781 0Z"/>
<text x="117.70" y="106.19">0.9</text>
<text x="106.57" y="89.87">0.95</text>
<text x="134.38" y="73.54"> </text><path transform="translate(134.38 73.54) scale(0.009766 -0.009766)" d="M600 0L600 1230L282 965L282 1135L615 1409L781 1409L781 0Z"/>
<text x="106.57" y="57.21"> .05</text><path transform="translate(106.57 57.21) scale(0.009766 -0.009766)" d="M600 0L600 1230L282 965L282 1135L615 1409L781 1409L781 0Z"/>
</g>
<clipPath id="c2"><rect x="226.9" y="300.6" width="127.49999999999997" height="67.59999999999997"/></clipPath>
<rect x="226.9" y="300.6" width="127.49999999999997" height="67.59999999999997" fill="#fff"/>
<g clip-path="url(#c2)" fill="none" stroke-linejoin="round">
<path d="M227.5 342.1L311.4 342.1L311.4 372.6L312.0 376.6L312.6 380.6L313.2 384.7L313.8 388.7L314.4 392.7L315.0 396.7L315.6 400.7L316.2 404.8L316.8 408.8L317.4 412.8L318.0 416.7L318.6 420.7L319.2 424.7L319.8 428.7L320.4 432.6L321.0 436.6L321.6 440.5L322.2 444.4L322.8 448.3L323.4 452.2L324.0 456.1L324.6 460.0L325.2 463.9L325.8 467.7L326.4 471.6L327.0 475.4L327.6 479.2L328.2 483.1L328.8 486.8L329.4 490.6L330.0 494.4L330.6 498.1L331.2 501.9L331.8 505.6L332.4 509.3L333.0 513.0L333.5 516.6L334.1 520.3L334.7 523.9L335.3 527.5L335.9 531.1L336.5 534.7L337.1 538.3L337.7 541.8L338.3 545.3L338.9 548.8L339.5 552.3L340.1 555.7L340.7 559.2L341.3 562.6L341.9 566.0L342.5 569.3L343.1 572.7L343.7 576.0L344.3 579.3L344.9 582.6L345.5 585.8L346.1 589.0L346.7 592.3L347.3 595.4L347.9 598.6L348.5 601.7L349.1 604.8L349.7 607.9L350.3 610.9L350.9 613.9L351.5 616.9L352.1 619.9L352.7 622.8L353.3 625.7L353.9 628.6" stroke="#e80000" stroke-width="1.4"/>
<path d="M227.5 325.9L233.5 325.9L233.5 362.4L239.5 362.4L239.5 325.9L245.5 325.9L245.5 325.9L251.5 325.9L251.5 362.4L257.5 362.4L257.5 325.9L263.4 325.9L263.4 325.9L269.4 325.9L269.4 325.9L275.4 325.9L275.4 362.4L281.4 362.4L281.4 362.4L287.4 362.4L287.4 362.4L293.4 362.4L293.4 338.0L299.4 338.0L299.4 362.4L305.4 362.4L305.4 362.4L311.4 362.4L311.4 392.8L312.1 397.9L312.9 402.9L313.6 408.0L314.4 413.0L315.1 418.0L315.9 423.0L316.6 428.0L317.4 433.0L317.4 433.0L318.1 438.0L318.9 443.0L319.6 447.9L320.4 452.9L321.1 457.8L321.9 462.7L322.6 467.6L323.4 472.5L323.4 472.5L324.1 477.4L324.9 482.2L325.6 487.0L326.4 491.9L327.1 496.6L327.9 501.4L328.6 506.2L329.4 510.9L329.4 510.9L330.1 515.6L330.9 520.3L331.6 524.9L332.4 529.5L333.1 534.2L333.8 538.7L334.6 543.3L335.3 547.8L335.3 547.8L336.1 552.3L336.8 556.7L337.6 561.2L338.3 565.6L339.1 569.9L339.8 574.3L340.6 578.6L341.3 582.8L341.3 546.4L342.1 550.6L342.8 554.8L343.6 559.0L344.3 563.1L345.1 567.2L345.8 571.2L346.6 575.2L347.3 579.2L347.3 615.7L348.1 619.6L348.8 623.5L349.6 627.4L350.3 631.2L351.1 635.0L351.8 638.7L352.6 642.4L353.3 646.0L353.3 646.0L354.4 651.2" stroke="#0000f0" stroke-width="2.2" stroke-dasharray="9.5 9.6" stroke-dashoffset="0"/>
<path d="M227.5 309.7L233.5 309.7L233.5 362.4L239.5 362.4L239.5 309.7L245.5 309.7L245.5 309.7L251.5 309.7L251.5 362.4L257.5 362.4L257.5 309.7L263.4 309.7L263.4 309.7L269.4 309.7L269.4 317.8L275.4 317.8L275.4 362.4L281.4 362.4L281.4 362.4L287.4 362.4L287.4 362.4L293.4 362.4L293.4 338.0L299.4 338.0L299.4 362.4L305.4 362.4L305.4 362.4L311.4 362.4L311.4 392.8L312.1 397.9L312.9 402.9L313.6 408.0L314.4 413.0L315.1 418.0L315.9 423.0L316.6 428.0L317.4 433.0L317.4 433.0L318.1 438.0L318.9 443.0L319.6 447.9L320.4 452.9L321.1 457.8L321.9 462.7L322.6 467.6L323.4 472.5L323.4 472.5L324.1 477.4L324.9 482.2L325.6 487.0L326.4 491.9L327.1 496.6L327.9 501.4L328.6 506.2L329.4 510.9L329.4 510.9L330.1 515.6L330.9 520.3L331.6 524.9L332.4 529.5L333.1 534.2L333.8 538.7L334.6 543.3L335.3 547.8L335.3 547.8L336.1 552.3L336.8 556.7L337.6 561.2L338.3 565.6L339.1 569.9L339.8 574.3L340.6 578.6L341.3 582.8L341.3 530.2L342.1 534.4L342.8 538.6L343.6 542.8L344.3 546.9L345.1 551.0L345.8 555.0L346.6 559.0L347.3 563.0L347.3 615.7L348.1 619.6L348.8 623.5L349.6 627.4L350.3 631.2L351.1 635.0L351.8 638.7L352.6 642.4L353.3 646.0L353.3 646.0L354.4 651.2" stroke="#f000f0" stroke-width="1.4" stroke-dasharray="6.7 6.05" stroke-dashoffset="0"/>
</g>
<g stroke="#262626" stroke-width="1.2" fill="none">
<rect x="226.9" y="300.6" width="127.49999999999997" height="67.59999999999997"/>
<path d="M251.47 368.2v-1.5M251.47 300.6v1.5M281.42 368.2v-1.5M281.42 300.6v1.5M311.38 368.2v-1.5M311.38 300.6v1.5M341.34 368.2v-1.5M341.34 300.6v1.5M226.9 362.36h1.5M354.4 362.36h-1.5M226.9 342.10h1.5M354.4 342.10h-1.5M226.9 321.84h1.5M354.4 321.84h-1.5M226.9 301.57h1.5M354.4 301.57h-1.5"/>
</g>
<g font-family="'Liberation Sans', sans-serif" font-size="20" fill="#000">
<text x="237.56" y="396.50">8.5</text>
<text x="275.86" y="396.50">9</text>
<text x="297.48" y="396.50">9.5</text>
<text x="330.22" y="396.50"> 0</text><path transform="translate(330.22 396.50) scale(0.009766 -0.009766)" d="M600 0L600 1230L282 965L282 1135L615 1409L781 1409L781 0Z"/>
<text x="174.26" y="370.56">-0.05</text>
<text x="208.73" y="350.30">0</text>
<text x="180.92" y="330.04">0.05</text>
<text x="192.05" y="309.77">0. </text><path transform="translate(208.73 309.77) scale(0.009766 -0.009766)" d="M600 0L600 1230L282 965L282 1135L615 1409L781 1409L781 0Z"/>
</g>
<rect x="195.4" y="179" width="81.6" height="38.7" fill="none" stroke="#262626" stroke-width="1.2"/>
<ellipse cx="355" cy="36.05" rx="19.05" ry="18.7" fill="none" stroke="#262626" stroke-width="1.1"/>
<path d="M328.60 46.70L276.73 63.63" stroke="#111" stroke-width="1.05"/><path d="M265.80 67.20L280.62 54.58L276.73 63.63L285.21 68.65Z" fill="#000"/>
<path d="M235.50 220.70L252.96 284.51" stroke="#111" stroke-width="1.05"/><path d="M256.00 295.60L244.11 280.19L252.96 284.51L258.39 276.29Z" fill="#000"/>
</svg>
</body></html>
